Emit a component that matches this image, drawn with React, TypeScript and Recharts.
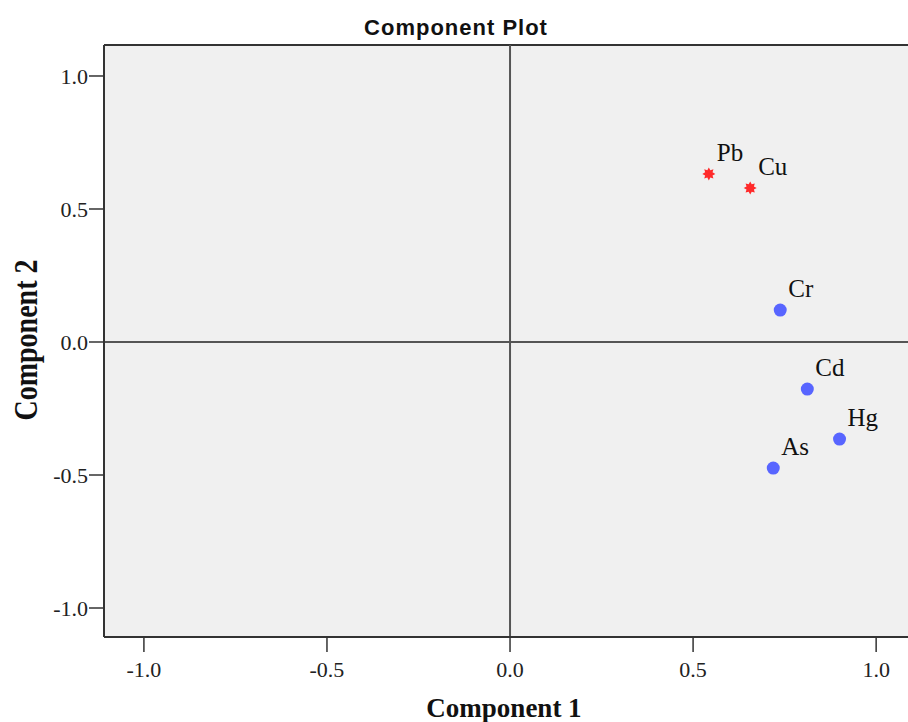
import { ScatterChart, Scatter, XAxis, YAxis, ReferenceLine, ReferenceArea } from 'recharts'

const names = ['Pb', 'Cu', 'Cr', 'Cd', 'Hg', 'As']
const comp1 = [0.543, 0.656, 0.738, 0.812, 0.9, 0.719]
const comp2 = [0.632, 0.579, 0.12, -0.177, -0.365, -0.474]
const group = ['red', 'red', 'blue', 'blue', 'blue', 'blue']
const ticks = [-1, -0.5, 0, 0.5, 1]

const xDomain = [-1.109, 1.087]
const yDomain = [-1.109, 1.1165]

const points = names.map((n, i) => ({ name: n, x: comp1[i], y: comp2[i], group: group[i] }))
const redPts = points.filter(p => p.group === 'red')
const bluePts = points.filter(p => p.group === 'blue')

const serif = '"Liberation Serif", "Times New Roman", serif'

function starPath(cx: number, cy: number, ro: number, ri: number, n: number) {
  let d = ''
  for (let i = 0; i < n * 2; i++) {
    const r = i % 2 === 0 ? ro : ri
    const a = (Math.PI * i) / n - Math.PI / 2
    d += (i === 0 ? 'M' : 'L') + (cx + r * Math.cos(a)).toFixed(2) + ',' + (cy + r * Math.sin(a)).toFixed(2)
  }
  return d + 'Z'
}

function PointLabel({ cx, cy, name }: { cx: number; cy: number; name: string }) {
  return (
    <text x={cx + 8} y={cy - 13} fontFamily={serif} fontSize={25} fill="#111">{name}</text>
  )
}

const RedShape = (props: any) => {
  const { cx, cy, payload } = props
  return (
    <g>
      <path d={starPath(cx, cy, 6.5, 4, 8)} fill="#ff2a2a" />
      <PointLabel cx={cx} cy={cy} name={payload.name} />
    </g>
  )
}

const BlueShape = (props: any) => {
  const { cx, cy, payload } = props
  return (
    <g>
      <circle cx={cx} cy={cy} r={6.5} fill="#5865ff" />
      <PointLabel cx={cx} cy={cy} name={payload.name} />
    </g>
  )
}

const XTick = ({ x, y, payload }: any) => (
  <text x={x} y={y + 23} textAnchor="middle" fontFamily={serif} fontSize={22} fill="#222">{Number(payload.value).toFixed(1)}</text>
)
const YTick = ({ x, y, payload }: any) => (
  <text x={x + 1} y={y + 8} textAnchor="end" fontFamily={serif} fontSize={22} fill="#222">{Number(payload.value).toFixed(1)}</text>
)

export default function App() {
  return (
    <div style={{ position: 'absolute', left: 0, top: 0, width: 908, height: 722, background: '#fff' }}>
      <div style={{ position: 'absolute', left: 0, top: 15, width: 912, textAlign: 'center', fontFamily: '"Liberation Sans", Arial, sans-serif', fontWeight: 'bold', fontSize: 22, letterSpacing: 1, color: '#111' }}>
        Component Plot
      </div>
      <ScatterChart width={908} height={722} margin={{ top: 45, right: 0, bottom: 0, left: 0 }}>
        <ReferenceArea x1={xDomain[0]} x2={xDomain[1]} y1={yDomain[0]} y2={yDomain[1]} fill="#f0f0f0" fillOpacity={1} stroke="none" />
        <XAxis
          type="number" dataKey="x" domain={xDomain} ticks={ticks} allowDataOverflow height={85}
          tickSize={15} tick={<XTick />} axisLine={{ stroke: '#333', strokeWidth: 2 }} tickLine={{ stroke: '#333', strokeWidth: 1.5 }}
          label={{ content: (p: any) => <text x={p.viewBox.x + p.viewBox.width / 2 - 2} y={717} textAnchor="middle" fontFamily={serif} fontWeight="bold" fontSize={27} fill="#111">Component 1</text> }}
        />
        <YAxis
          type="number" dataKey="y" domain={yDomain} ticks={ticks} allowDataOverflow width={104}
          tickSize={15} tick={<YTick />} axisLine={{ stroke: '#333', strokeWidth: 2 }} tickLine={{ stroke: '#333', strokeWidth: 1.5 }}
          label={{ content: () => <text transform="translate(37 340) scale(1.22 1) rotate(-90)" textAnchor="middle" fontFamily={serif} fontWeight="bold" fontSize={28} fill="#111">Component 2</text> }}
        />
        <ReferenceLine y={yDomain[1]} stroke="#333" strokeWidth={2} />
        <ReferenceLine x={0} stroke="#555" strokeWidth={2} />
        <ReferenceLine y={0} stroke="#555" strokeWidth={2} />
        <Scatter data={redPts} shape={RedShape} isAnimationActive={false} />
        <Scatter data={bluePts} shape={BlueShape} isAnimationActive={false} />
      </ScatterChart>
    </div>
  )
}
